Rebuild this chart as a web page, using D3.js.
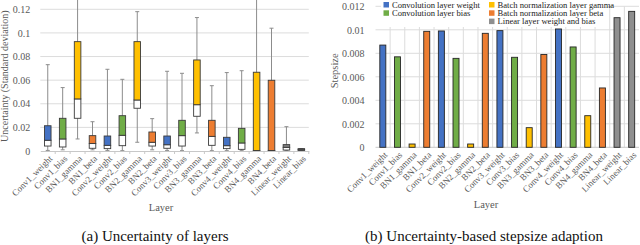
<!DOCTYPE html>
<html>
<head>
<meta charset="utf-8">
<script src="https://cdn.jsdelivr.net/npm/d3@7"></script>
<style>
  body { margin: 0; background: #fff; }
  svg { display: block; }
  svg text { font-family: "Liberation Serif", "Times New Roman", serif; }
</style>
</head>
<body>
<svg id="chart" width="640" height="245"></svg>
<script>
// layer names, shared by both panels
let layers = ["Conv1_weight", "Conv1_bias", "BN1_gamma", "BN1_beta",
    "Conv2_weight", "Conv2_bias", "BN2_gamma", "BN2_beta",
    "Conv3_weight", "Conv3_bias", "BN3_gamma", "BN3_beta",
    "Conv4_weight", "Conv4_bias", "BN4_gamma", "BN4_beta",
    "Linear_weight", "Linear_bias"];
let kinds = ["cw", "cb", "bg", "bb", "cw", "cb", "bg", "bb",
    "cw", "cb", "bg", "bb", "cw", "cb", "bg", "bb", "lin", "lin"];

// (a) box plot values
let whiskerLow = [0.0005, 0.001, 0.0102, 0.001, 0.0005, 0.0003, 0.0074, 0.001,
    0.0005, 0.0003, 0.0153, 0.0003, 0.0003, 0.0003, 0.0, 0.0, 0.0003, 0.0003];
let q1 = [0.0042, 0.0034, 0.0277, 0.0023, 0.002, 0.0045, 0.0362, 0.0042,
    0.0023, 0.0042, 0.0294, 0.0048, 0.002, 0.0014, 0.0, 0.0, 0.0008, 0.0005];
let median = [0.0091, 0.0102, 0.0441, 0.0063, 0.0048, 0.0133, 0.0432, 0.0074,
    0.0053, 0.013, 0.0392, 0.0124, 0.0045, 0.0068, 0.0004, 0.0004, 0.0031, 0.001];
let q3 = [0.0214, 0.0277, 0.0926, 0.013, 0.0127, 0.0299, 0.0926, 0.0161,
    0.0127, 0.026, 0.0771, 0.026, 0.0116, 0.0192, 0.0667, 0.0599, 0.0054, 0.002];
let whiskerHigh = [0.0731, 0.0537, 0.15, 0.0248, 0.0692, 0.0607, 0.118, 0.0274,
    0.0675, 0.0658, 0.113, 0.0553, 0.0664, 0.068, 0.15, 0.104, 0.0206, 0.002];

// (b) stepsize per layer
let stepsize = [0.0087, 0.0077, 0.00028, 0.00987, 0.0099, 0.00757, 0.00028, 0.0097,
    0.00993, 0.00766, 0.00167, 0.0079, 0.01007, 0.00854, 0.00269, 0.00505, 0.01103, 0.01157];

let leftTicks = [0, 0.02, 0.04, 0.06, 0.08, 0.1, 0.12];
let rightTicks = [0, 0.002, 0.004, 0.006, 0.008, 0.01, 0.012];

let legendKinds = ["cw", "cb", "bg", "bb", "lin"];
let legendLabels = ["Convolution layer weight", "Convolution layer bias",
    "Batch normalization layer gamma", "Batch normalization layer beta",
    "Linear layer weight and bias"];

let colors = { cw: "#4472C4", cb: "#70AD47", bg: "#FFC000", bb: "#ED7D31", lin: "#8f8f8f" };
let boxColors = { cw: "#4472C4", cb: "#70AD47", bg: "#FFC000", bb: "#ED7D31", lin: "#7f7f7f" };

let svg = d3.select("#chart");
let labelColor = "#595959";
let gridColor = "#dcdcdc";
let serif = "Liberation Serif, serif";

let fmt = d => d === 0 ? "0" : String(+d.toFixed(3));

let drawXLabels = (g, x, y0) => {
    g.selectAll("text.xl")
        .data(layers)
        .enter().append("text")
        .attr("class", "xl")
        .attr("transform", d => `translate(${x(d) + x.bandwidth() / 2 + 3},${y0 + 6}) rotate(-45)`)
        .attr("text-anchor", "end")
        .attr("dy", "0.35em")
        .style("font-size", "9px")
        .style("fill", labelColor)
        .text(d => d);
};

// ---------- (a) uncertainty of layers ----------
let A = { left: 40.3, right: 308.8, top: 9.3, bottom: 151 };
let xa = d3.scaleBand().domain(layers).range([A.left, A.right]);
let ya = d3.scaleLinear().domain([0, 0.12]).range([A.bottom, A.top]);

let ga = svg.append("g");
ga.append("defs").append("clipPath").attr("id", "clipA")
    .append("rect").attr("x", A.left).attr("y", 0)
    .attr("width", A.right - A.left).attr("height", A.bottom);

ga.selectAll("line.grid")
    .data(leftTicks.slice(1))
    .enter().append("line")
    .attr("x1", A.left).attr("x2", A.right)
    .attr("y1", d => ya(d)).attr("y2", d => ya(d))
    .style("stroke", gridColor);

let axisA = ga.append("g")
    .attr("transform", `translate(0,${A.bottom})`)
    .call(d3.axisBottom(xa).tickSize(0).tickFormat(""));
axisA.select(".domain").style("stroke", "#c8c8c8");
ga.selectAll("line.tk")
    .data(layers)
    .enter().append("line")
    .attr("x1", d => xa(d) + xa.bandwidth())
    .attr("x2", d => xa(d) + xa.bandwidth())
    .attr("y1", A.bottom).attr("y2", A.bottom + 3)
    .style("stroke", "#c8c8c8");

ga.append("g")
    .attr("transform", `translate(${A.left - 7},0)`)
    .call(d3.axisLeft(ya).tickValues(leftTicks).tickSize(0).tickFormat(fmt))
    .call(g => g.select(".domain").remove())
    .selectAll("text")
    .style("font-size", "10px").style("fill", labelColor)
    .style("font-family", serif);

let boxes = ga.append("g").attr("clip-path", "url(#clipA)");
let bw = xa.bandwidth() * 0.44;
layers.forEach((name, i) => {
    let cx = xa(name) + xa.bandwidth() / 2;
    let g = boxes.append("g");
    g.append("line")
        .attr("x1", cx).attr("x2", cx)
        .attr("y1", ya(whiskerLow[i])).attr("y2", ya(whiskerHigh[i]))
        .style("stroke", "#8c8c8c");
    [whiskerLow[i], whiskerHigh[i]].forEach(v => {
        g.append("line")
            .attr("x1", cx - 2).attr("x2", cx + 2)
            .attr("y1", ya(v)).attr("y2", ya(v))
            .style("stroke", "#8c8c8c");
    });
    g.append("rect")
        .attr("x", cx - bw / 2).attr("width", bw)
        .attr("y", ya(median[i])).attr("height", Math.max(ya(q1[i]) - ya(median[i]), 0.6))
        .style("fill", "#fff").style("stroke", "#3a3a3a").style("stroke-width", 0.9);
    g.append("rect")
        .attr("x", cx - bw / 2).attr("width", bw)
        .attr("y", ya(q3[i])).attr("height", ya(median[i]) - ya(q3[i]))
        .style("fill", boxColors[kinds[i]]).style("stroke", "#3a3a3a").style("stroke-width", 0.9);
});

drawXLabels(ga, xa, A.bottom);

ga.append("text")
    .attr("transform", `translate(8,${(A.top + A.bottom) / 2 - 4}) rotate(-90)`)
    .attr("text-anchor", "middle")
    .style("font-size", "10px").style("fill", labelColor)
    .text("Uncertainty (Standard deviation)");
ga.append("text")
    .attr("x", 161).attr("y", 211)
    .attr("text-anchor", "middle")
    .style("font-size", "10.5px").style("fill", labelColor)
    .text("Layer");
ga.append("text")
    .attr("x", 155).attr("y", 241)
    .attr("text-anchor", "middle")
    .style("font-size", "15px").style("fill", "#111")
    .text("(a) Uncertainty of layers");

// ---------- (b) stepsize adaption ----------
let B = { left: 375.5, right: 639, top: 6.3, bottom: 147.3 };
let xb = d3.scaleBand().domain(layers).range([B.left, B.right]);
let yb = d3.scaleLinear().domain([0, 0.012]).range([B.bottom, B.top]);

let gb = svg.append("g");
gb.selectAll("line.grid")
    .data(rightTicks.slice(1))
    .enter().append("line")
    .attr("x1", B.left).attr("x2", B.right)
    .attr("y1", d => yb(d)).attr("y2", d => yb(d))
    .style("stroke", gridColor);
gb.selectAll("line.vgrid")
    .data(layers.slice(1))
    .enter().append("line")
    .attr("x1", d => xb(d)).attr("x2", d => xb(d))
    .attr("y1", B.top).attr("y2", B.bottom)
    .style("stroke", gridColor);
gb.append("line")
    .attr("x1", B.left).attr("x2", B.right)
    .attr("y1", B.bottom).attr("y2", B.bottom)
    .style("stroke", "#c8c8c8");

gb.append("g")
    .attr("transform", `translate(${B.left - 8},0)`)
    .call(d3.axisLeft(yb).tickValues(rightTicks).tickSize(0).tickFormat(fmt))
    .call(g => g.select(".domain").remove())
    .selectAll("text")
    .style("font-size", "10px").style("fill", labelColor)
    .style("font-family", serif);

gb.selectAll("rect.bar")
    .data(layers)
    .enter().append("rect")
    .attr("class", "bar")
    .attr("x", d => xb(d) + xb.bandwidth() / 2 - 3)
    .attr("width", 6)
    .attr("y", (d, i) => yb(stepsize[i]))
    .attr("height", (d, i) => yb(0) - yb(stepsize[i]))
    .style("fill", (d, i) => colors[kinds[i]])
    .style("stroke", "#262626").style("stroke-width", 0.9);

drawXLabels(gb, xb, B.bottom);

// legend
let lg = gb.append("g");
lg.append("rect").attr("x", 381).attr("y", 0).attr("width", 226).attr("height", 27).style("fill", "#fff");
legendLabels.forEach((lab, i) => {
    let col = i < 2 ? 0 : 1;
    let row = i < 2 ? i : i - 2;
    let x0 = col === 0 ? 383.5 : 489;
    let y0 = 2 + row * 8.3;
    lg.append("rect").attr("x", x0).attr("y", y0).attr("width", 5.5).attr("height", 5.5)
        .style("fill", colors[legendKinds[i]]);
    lg.append("text").attr("x", x0 + 8.5).attr("y", y0 + 5.5)
        .style("font-size", "8.6px").style("fill", "#222")
        .text(lab);
});

gb.append("text")
    .attr("transform", `translate(338,${(B.top + B.bottom) / 2 - 6}) rotate(-90)`)
    .attr("text-anchor", "middle")
    .style("font-size", "10.5px").style("fill", labelColor)
    .text("Stepsize");
gb.append("text")
    .attr("x", 486).attr("y", 208)
    .attr("text-anchor", "middle")
    .style("font-size", "10.5px").style("fill", labelColor)
    .text("Layer");
gb.append("text")
    .attr("x", 484).attr("y", 241)
    .attr("text-anchor", "middle")
    .style("font-size", "15px").style("fill", "#111")
    .text("(b) Uncertainty-based stepsize adaption");
</script>
</body>
</html>
